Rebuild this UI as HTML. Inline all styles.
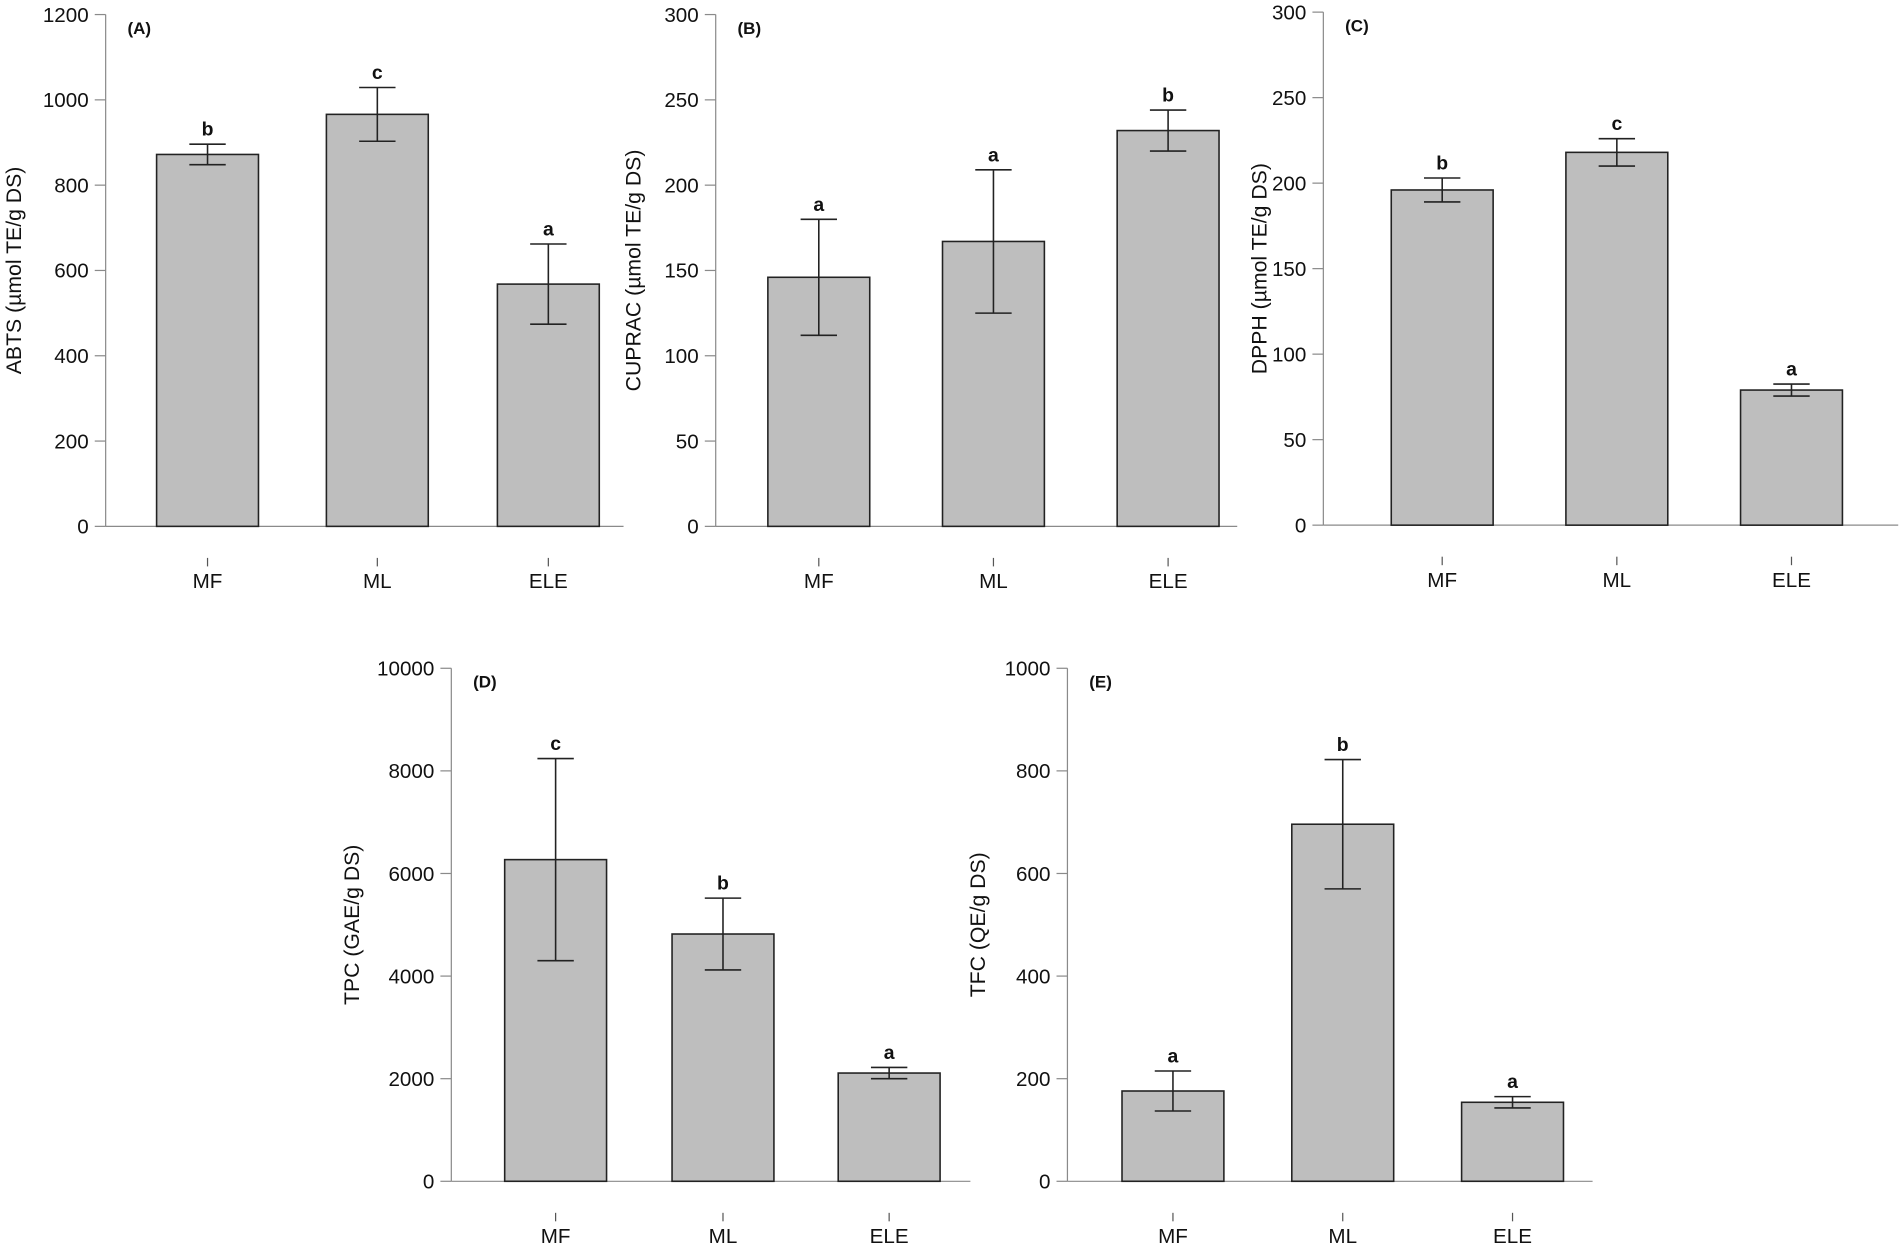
<!DOCTYPE html>
<html><head><meta charset="utf-8"><style>
html,body{margin:0;padding:0;background:#fff}
svg{display:block}
text{font-family:"Liberation Sans",Arial,sans-serif;fill:#111}
</style></head><body>
<svg id="fig" width="1902" height="1248" viewBox="0 0 1568 1029" xmlns="http://www.w3.org/2000/svg"></svg>
<script>
const categories = ["MF","ML","ELE"];
const valuesA = [872, 966, 568];
const errA = [24, 63, 94];
const lettersA = ["b","c","a"];
const valuesB = [146, 167, 232];
const errB = [34, 42, 12];
const lettersB = ["a","a","b"];
const valuesC = [196, 218, 79];
const errC = [7, 8, 3.5];
const lettersC = ["b","c","a"];
const valuesD = [6270, 4820, 2110];
const errD = [1970, 700, 110];
const lettersD = ["c","b","a"];
const valuesE = [176, 696, 154];
const errE = [39, 126, 11];
const lettersE = ["a","b","a"];
const ticksA = [0,200,400,600,800,1000,1200];
const ticksB = [0,50,100,150,200,250,300];
const ticksC = [0,50,100,150,200,250,300];
const ticksD = [0,2000,4000,6000,8000,10000];
const ticksE = [0,200,400,600,800,1000];

const NS = "http://www.w3.org/2000/svg";
const svg = document.getElementById("fig");
function mk(tag, attrs, parent){
  const e = document.createElementNS(NS, tag);
  for (const k in attrs) e.setAttribute(k, attrs[k]);
  (parent||svg).appendChild(e);
  return e;
}
const panels = [
  {id:"a", tag:"(A)", label:"ABTS (µmol TE/g DS)", vals:valuesA, err:errA, let:lettersA, ticks:ticksA, ax:87, top:12, base:434, right:514, bars:[129,269,410], labX:17},
  {id:"b", tag:"(B)", label:"CUPRAC (µmol TE/g DS)", vals:valuesB, err:errB, let:lettersB, ticks:ticksB, ax:590, top:12, base:434, right:1020, bars:[633,777,921], labX:528},
  {id:"c", tag:"(C)", label:"DPPH (µmol TE/g DS)", vals:valuesC, err:errC, let:lettersC, ticks:ticksC, ax:1091, top:10, base:433, right:1565, bars:[1147,1291,1435], labX:1044},
  {id:"d", tag:"(D)", label:"TPC (GAE/g DS)", vals:valuesD, err:errD, let:lettersD, ticks:ticksD, ax:372, top:551, base:974, right:800, bars:[416,554,691], labX:296},
  {id:"e", tag:"(E)", label:"TFC (QE/g DS)", vals:valuesE, err:errE, let:lettersE, ticks:ticksE, ax:880, top:551, base:974, right:1313, bars:[925,1065,1205], labX:812}
];
const BW = 84;
panels.forEach(p=>{
  const g = mk("g",{});
  
  
  const maxV = p.ticks[p.ticks.length-1];
  const y = v => p.base - (v/maxV)*(p.base-p.top);
  const ya = mk("line",{x1:p.ax,y1:p.top,x2:p.ax,y2:p.base,stroke:"#8a8a8a","stroke-width":1},g);
  
  
  const xa = mk("line",{x1:p.ax,y1:p.base,x2:p.right,y2:p.base,stroke:"#8a8a8a","stroke-width":1},g);
  
  
  p.ticks.forEach(t=>{
    mk("line",{x1:p.ax-9,y1:y(t),x2:p.ax,y2:y(t),stroke:"#8a8a8a","stroke-width":1},g);
    const tl = mk("text",{x:p.ax-14,y:y(t)+6,"text-anchor":"end","font-size":17},g);
    tl.textContent = t;
    
    
  });
  const yl = mk("text",{x:p.labX,y:(p.top+p.base)/2,"text-anchor":"middle","font-size":17.5,transform:`rotate(-90 ${p.labX} ${(p.top+p.base)/2})`},g);
  yl.textContent = p.label;
  
  
  const pt = mk("text",{x:p.ax+18,y:p.top+16,"font-size":14,"font-weight":"bold"},g);
  pt.textContent = p.tag;
  
  
  categories.forEach((c,i)=>{
    const x0 = p.bars[i], cx = x0+BW/2, v = p.vals[i], e = p.err[i];
    const r = mk("rect",{x:x0,y:y(v),width:BW,height:p.base-y(v),fill:"#bebebe",stroke:"#222","stroke-width":1.3},g);
    
    
    const eg = mk("g",{stroke:"#222","stroke-width":1.3},g);
    
    
    mk("line",{x1:cx,y1:y(v+e),x2:cx,y2:y(v-e)},eg);
    mk("line",{x1:cx-15,y1:y(v+e),x2:cx+15,y2:y(v+e)},eg);
    mk("line",{x1:cx-15,y1:y(v-e),x2:cx+15,y2:y(v-e)},eg);
    const lt = mk("text",{x:cx,y:y(v+e)-7,"text-anchor":"middle","font-size":16,"font-weight":"bold"},g);
    lt.textContent = p.let[i];
    
    
    mk("line",{x1:cx,y1:p.base+26,x2:cx,y2:p.base+33,stroke:"#555","stroke-width":1},g);
    const cl = mk("text",{x:cx,y:p.base+51,"text-anchor":"middle","font-size":17},g);
    cl.textContent = c;
    
    
  });
});
</script>
</body></html>
